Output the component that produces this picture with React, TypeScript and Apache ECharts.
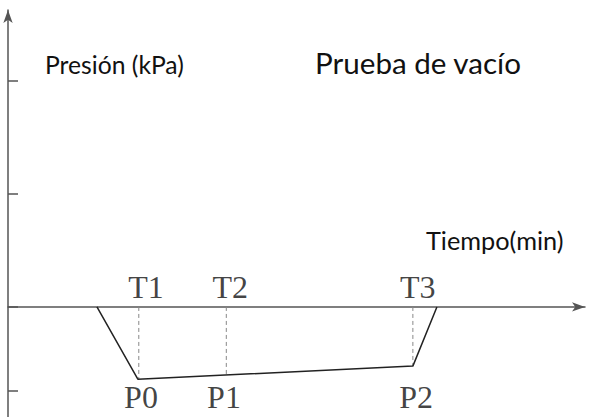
import React, { useEffect, useRef } from "react";
import * as echarts from "echarts";

// Time axis (arbitrary minutes) and pressure axis (arbitrary kPa units)
const curvePoints: [number, number][] = [
  [9.25, 0],
  [13.5, -0.637],
  [42.1, -0.522],
  [44.6, 0],
];
const dashX = [13.6, 22.7, 42.1];
const dashY = [-0.637, -0.6, -0.522];
const tLabels = ["T1", "T2", "T3"];
const tLabelX = [14.35, 23.1, 42.6];
const tLabelY = 0.177;
const pLabels = ["P0", "P1", "P2"];
const pLabelX = [13.83, 22.46, 42.43];
const pLabelY = -0.794;
const yTicks = [2, 1, 0, -0.743];

export default function App() {
  const ref = useRef<HTMLDivElement>(null);
  useEffect(() => {
    document.body.style.margin = "0";
    const chart = echarts.init(ref.current!, null, { renderer: "svg" });
    const serif = "Liberation Serif";
    const sans = "Lato";
    const dashSeries = dashX.map((x, i) => ({
      type: "line",
      data: [
        [x, 0],
        [x, dashY[i]],
      ],
      symbol: "none",
      lineStyle: { color: "#888", width: 1, type: [4, 3] },
      z: 1,
    }));
    const labelStyle = {
      show: true,
      position: "inside",
      formatter: "{b}",
      fontFamily: serif,
      fontSize: 32,
      color: "#111",
    };
    chart.setOption({
      animation: false,
      backgroundColor: "#fff",
      grid: { left: 8, right: 5, top: 10, bottom: 0, outerBoundsMode: "none", containLabel: false },
      xAxis: {
        type: "value",
        min: 0,
        max: 60,
        axisLine: {
          onZero: true,
          symbol: ["none", "arrow"],
          symbolSize: [7, 13],
          lineStyle: { color: "#555", width: 1.5 },
        },
        axisTick: { show: false },
        axisLabel: { show: false },
        splitLine: { show: false },
      },
      yAxis: {
        type: "value",
        min: -0.971,
        max: 2.62,
        axisLine: {
          show: true,
          onZero: false,
          symbol: ["none", "arrow"],
          symbolSize: [7, 13],
          lineStyle: { color: "#555", width: 1.5 },
        },
        axisTick: {
          show: true,
          inside: true,
          length: 10,
          customValues: yTicks,
          lineStyle: { color: "#555", width: 1.5 },
        },
        axisLabel: { show: false },
        splitLine: { show: false },
      },
      graphic: [
        {
          type: "text",
          left: 45,
          top: 52,
          style: { text: "Presión (kPa)", font: `24.7px ${sans}`, fill: "#111" },
        },
        {
          type: "text",
          left: 315,
          top: 47,
          style: { text: "Prueba de vacío", font: `29.6px ${sans}`, fill: "#111" },
        },
        {
          type: "text",
          left: 426,
          top: 227,
          style: { text: "Tiempo(min)", font: `25.3px ${sans}`, fill: "#111" },
        },
      ],
      series: [
        {
          type: "line",
          data: curvePoints,
          symbol: "none",
          lineStyle: { color: "#222", width: 1.5 },
          z: 3,
        },
        ...dashSeries,
        {
          type: "scatter",
          symbolSize: 0,
          data: tLabels.map((t, i) => ({ value: [tLabelX[i], tLabelY], name: t })),
          label: labelStyle,
          silent: true,
        },
        {
          type: "scatter",
          symbolSize: 0,
          data: pLabels.map((t, i) => ({ value: [pLabelX[i], pLabelY], name: t })),
          label: labelStyle,
          silent: true,
        },
      ],
    });
    return () => chart.dispose();
  }, []);
  return <div ref={ref} style={{ width: 590, height: 417, position: "absolute", left: 0, top: 0 }} />;
}
